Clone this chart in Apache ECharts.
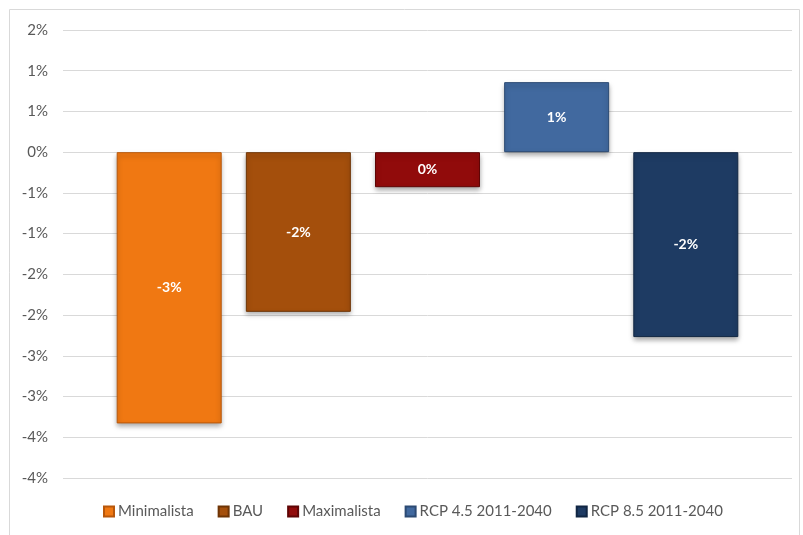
<!DOCTYPE html>
<html>
<head>
<meta charset="utf-8">
<script src="https://cdn.jsdelivr.net/npm/echarts@6/dist/echarts.min.js"></script>
<style>
  html, body { margin: 0; padding: 0; background: #fff; }
  #chart { width: 803px; height: 535px; }
</style>
</head>
<body>
<div id="chart"></div>
<script>
// values in percent
const seriesNames = ['Minimalista', 'BAU', 'Maximalista', 'RCP 4.5 2011-2040', 'RCP 8.5 2011-2040']
const seriesValues = [-3.33, -1.96, -0.43, 0.86, -2.27]
const seriesColors = ['#F07812', '#A44F0C', '#910B0B', '#41699F', '#1E3B63']
const edgeColors = ['#B8570A', '#6E3405', '#5E0505', '#2C4A73', '#112643']

// Excel style: round half away from zero, no "-0"
function pct(v) {
  const r = Math.sign(v) * Math.round(Math.abs(v))
  return (r === 0 ? 0 : r) + '%'
}

const chart = echarts.init(document.getElementById('chart'))

const series = seriesNames.map((name, i) => ({
  type: 'bar',
  name: name,
  data: [seriesValues[i]],
  barWidth: 105,
  barGap: '23%',
  itemStyle: {
    color: seriesColors[i],
    borderColor: edgeColors[i],
    borderWidth: 1,
    shadowColor: 'rgba(0,0,0,0.35)',
    shadowBlur: 5,
    shadowOffsetY: 3
  },
  label: {
    show: true,
    position: 'inside',
    color: '#fff',
    fontWeight: 'bold',
    fontSize: 14,
    fontFamily: 'Lato',
    formatter: p => pct(p.value)
  }
}))

chart.setOption({
  animation: false,
  graphic: [{
    type: 'rect',
    shape: { x: 9.5, y: 9.5, width: 790, height: 530 },
    style: { fill: 'none', stroke: '#d9d9d9', lineWidth: 1 },
    silent: true
  }],
  grid: { left: 63, right: 11, top: 30, bottom: 57 },
  legend: {
    data: seriesNames,
    left: 103,
    bottom: 16,
    padding: 0,
    itemWidth: 10,
    itemHeight: 10,
    itemGap: 24,
    icon: 'rect',
    textStyle: { color: '#595959', fontSize: 15, fontFamily: 'Lato', padding: [0, 0, 0, -1] }
  },
  xAxis: {
    type: 'category',
    data: [''],
    axisLine: { show: false },
    axisTick: { show: false },
    axisLabel: { show: false }
  },
  yAxis: {
    type: 'value',
    min: -4,
    max: 1.5,
    interval: 0.5,
    axisLine: { show: false },
    axisTick: { show: false },
    splitLine: { lineStyle: { color: '#d9d9d9' } },
    axisLabel: {
      color: '#595959',
      fontSize: 15,
      fontFamily: 'Lato',
      margin: 15,
      formatter: v => pct(v)
    }
  },
  series: series
})
</script>
</body>
</html>
